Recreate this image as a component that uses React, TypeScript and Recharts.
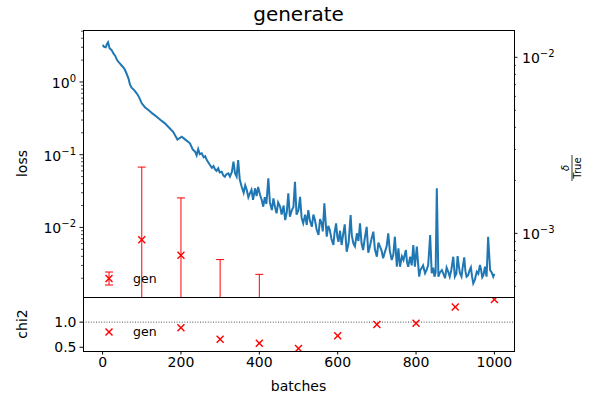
import React from 'react';
import { ComposedChart, Line, Scatter, ErrorBar, XAxis, YAxis, ReferenceLine } from 'recharts';

// loss per batch (main readings)
const lossBatches = [
  0, 8, 14, 18, 23, 32, 40, 48, 55, 66, 74, 87, 100, 117, 138, 159, 180, 202, 223, 236,
  244, 253, 266, 274, 287, 295, 304, 312, 321, 334, 338, 346, 355, 368, 376, 389, 402, 410, 423, 432,
  444, 453, 466, 474, 483, 491, 500, 504, 512, 521, 525, 534, 542, 551, 559, 566, 572, 580, 589, 596,
  602, 610, 623, 633, 640, 649, 657, 665, 674, 682, 691, 700, 708, 716, 729, 738, 746, 751, 755, 759,
  768, 774, 780, 785, 793, 797, 802, 808, 814, 823, 831, 836, 840, 847, 853, 857, 866, 874, 882, 895,
  899, 906, 912, 923, 929, 940, 946, 955, 963, 969, 976, 984, 989, 997, 1000,
];
const lossValues = [
  3.23, 3.0, 3.52, 2.9, 2.75, 2.3, 1.9, 1.7, 1.54, 1.12, 0.835, 0.7, 0.509, 0.412, 0.333, 0.27, 0.207, 0.177, 0.1435, 0.11,
  0.119, 0.1045, 0.0845, 0.0722, 0.063, 0.065, 0.0584, 0.0498, 0.0555, 0.08, 0.0555, 0.0845, 0.0363, 0.0327, 0.0294, 0.0345, 0.0279, 0.0193, 0.0473, 0.0173,
  0.0156, 0.0193, 0.01264, 0.0294, 0.0173, 0.0425, 0.0173, 0.0264, 0.0114, 0.0108, 0.0173, 0.0102, 0.01264, 0.00786, 0.01138, 0.0214, 0.00745, 0.0092, 0.00573, 0.01138,
  0.00635, 0.00573, 0.00463, 0.0148, 0.00604, 0.0083, 0.01138, 0.00489, 0.0102, 0.00543, 0.00873, 0.00395, 0.00543, 0.00376, 0.0083, 0.00356, 0.00745, 0.00288, 0.00516, 0.00288,
  0.00356, 0.00489, 0.00288, 0.00395, 0.00573, 0.00288, 0.00543, 0.0021, 0.00274, 0.00234, 0.00304, 0.00786, 0.00234, 0.0021, 0.0345, 0.0021, 0.00259, 0.002, 0.00246, 0.00395,
  0.0021, 0.00404, 0.00234, 0.00388, 0.0021, 0.00282, 0.0017, 0.00246, 0.00304, 0.00206, 0.00288, 0.00745, 0.00259, 0.0021, 0.0023,
];
// extra readings of the noise band in between
const lossBatchesFine = [
  4, 11, 28, 36, 44, 60, 70, 80, 93, 108, 127, 148, 170, 191, 212, 230,
  240, 248, 258, 262, 270, 279, 283, 291, 299, 308, 316, 325, 330, 342, 350,
  360, 364, 372, 380, 384, 393, 397, 406, 414, 418, 427, 436, 440, 448, 457, 462, 470, 478, 487, 495,
  508, 517, 529, 538, 546, 555, 562, 569, 576, 584, 592, 599, 606, 614, 618, 628, 636, 644, 653, 661,
  669, 678, 686, 695, 704, 712, 720, 725, 733, 742,
  764, 777, 789, 805, 811, 818, 827, 844, 850, 861, 870, 878, 886, 890, 903, 909, 916, 919, 926, 933,
  937, 943, 950, 959, 966, 972, 980, 993,
];
const lossValuesFine = [
  3.05, 3.3, 2.45, 2.05, 1.8, 1.35, 0.92, 0.78, 0.62, 0.45, 0.37, 0.3, 0.235, 0.162, 0.16, 0.118,
  0.098, 0.102, 0.092, 0.095, 0.078, 0.066, 0.07, 0.06, 0.057, 0.052, 0.054, 0.05, 0.058, 0.05, 0.046,
  0.03, 0.038, 0.026, 0.033, 0.024, 0.027, 0.036, 0.024, 0.026, 0.021, 0.022, 0.025, 0.019, 0.022, 0.015, 0.02, 0.016, 0.014, 0.019, 0.015,
  0.0135, 0.015, 0.0125, 0.015, 0.0095, 0.013, 0.0088, 0.0125, 0.0105, 0.007, 0.0085, 0.0075, 0.009, 0.008, 0.011, 0.0062, 0.0078, 0.0055, 0.0065, 0.006,
  0.007, 0.0045, 0.0068, 0.005, 0.0062, 0.0048, 0.0045, 0.0055, 0.0048, 0.0042,
  0.004, 0.0033, 0.003, 0.0033, 0.0026, 0.003, 0.0026, 0.0028, 0.0024, 0.0024, 0.0023, 0.0028, 0.0021, 0.0026, 0.0023, 0.003, 0.0021, 0.0028, 0.0025, 0.0022,
  0.0026, 0.0021, 0.0019, 0.0023, 0.0026, 0.0022, 0.0021, 0.0024,
];

// gen: delta / True with error bars (lower ends run off the axis)
const genBatches = [100, 200, 300, 400];
const genRatio = [9.2e-4, 7.5e-4, 2.5e-4, 2.0e-4];
const genErrLow = [9.1e-4, 7.4e-4, 2.4e-4, 1.9e-4];
const genErrHigh = [1.46e-3, 8.4e-4, 4.6e-4, 3.85e-4];

// chi2
const chiBatches = [200, 300, 400, 500, 600, 700, 800, 900, 1000];
const chiValues = [0.89, 0.66, 0.58, 0.475, 0.73, 0.955, 0.98, 1.3, 1.45];

const xTicks = [0, 200, 400, 600, 800, 1000];
const chiTicks = [0.5, 1.0];
const lossTicks = [
  0.002, 0.003, 0.004, 0.005, 0.006, 0.007, 0.008, 0.009, 0.01,
  0.02, 0.03, 0.04, 0.05, 0.06, 0.07, 0.08, 0.09, 0.1,
  0.2, 0.3, 0.4, 0.5, 0.6, 0.7, 0.8, 0.9, 1, 2, 3, 4, 5,
];
const ratioTicks = [
  0.0005, 0.0006, 0.0007, 0.0008, 0.0009, 0.001,
  0.002, 0.003, 0.004, 0.005, 0.006, 0.007, 0.008, 0.009, 0.01,
];

const FONT = 'DejaVu Sans, sans-serif';
const RED = '#ff0000';
const BLUE = '#1f77b4';

const lossData = lossBatches
  .map((b, i) => ({ batch: b, loss: lossValues[i] }))
  .concat(lossBatchesFine.map((b, i) => ({ batch: b, loss: lossValuesFine[i] })))
  .sort((a, b) => a.batch - b.batch);
const genData = genBatches.map((b, i) => ({ batch: b, ratio: genRatio[i], err: [genErrLow[i], genErrHigh[i]] }));
const chiData = chiBatches.map((b, i) => ({ batch: b, chi2: chiValues[i] }));

const XMark = (props: any) => {
  const { cx, cy } = props;
  if (cx == null || cy == null || isNaN(cy)) return null;
  const r = 3.5;
  return (
    <g stroke={RED} strokeWidth={1.4}>
      <line x1={cx - r} y1={cy - r} x2={cx + r} y2={cy + r} />
      <line x1={cx - r} y1={cy + r} x2={cx + r} y2={cy - r} />
    </g>
  );
};

const LogTick = (props: any) => {
  const { x, y, payload, side } = props;
  const v = payload.value;
  const lg = Math.log10(v);
  const major = Math.abs(lg - Math.round(lg)) < 1e-6;
  const dir = side === 'left' ? -1 : 1;
  const len = major ? 3.5 : 2;
  const e = Math.round(lg);
  const sup = e < 0 ? '\u2212' + Math.abs(e) : String(e);
  return (
    <g>
      <line x1={x} y1={y} x2={x + dir * len} y2={y} stroke="#000" strokeWidth={major ? 0.9 : 0.7} />
      {major && (
        <text
          x={side === 'left' ? x - 7 : x + 8}
          y={y + 6}
          textAnchor={side === 'left' ? 'end' : 'start'}
          fontFamily={FONT}
          fontSize={14}
          fill="#000"
        >
          <tspan>10</tspan>
          <tspan dy={-6} fontSize={10}>{sup}</tspan>
        </text>
      )}
    </g>
  );
};

export default function App() {
  return (
    <div style={{ position: 'absolute', left: 0, top: 0, width: 602, height: 406, background: '#fff' }}>
      <div style={{ position: 'absolute', left: 0, top: 0 }}>
        <ComposedChart width={602} height={406} margin={{ top: 297, right: 88, left: 0, bottom: 0 }} data={chiData}>
          <XAxis
            type="number"
            dataKey="batch"
            domain={[-50, 1050]}
            ticks={xTicks}
            interval={0}
            height={55}
            axisLine={false}
            tickSize={3.5}
            tickMargin={3}
            tickLine={{ stroke: '#000' }}
            tick={{ fill: '#000', fontSize: 14, fontFamily: FONT }}
          />
          <YAxis
            type="number"
            dataKey="chi2"
            domain={[0.426, 1.5]}
            allowDataOverflow
            ticks={chiTicks}
            interval={0}
            width={83}
            axisLine={false}
            tickSize={3.5}
            tickMargin={3}
            tickLine={{ stroke: '#000' }}
            tickFormatter={(v: number) => v.toFixed(1)}
            tick={{ fill: '#000', fontSize: 14, fontFamily: FONT }}
          />
          <ReferenceLine y={1} stroke="#222" strokeWidth={0.8} strokeDasharray="1 1.6" />
          <Scatter dataKey="chi2" shape={<XMark />} isAnimationActive={false} />
        </ComposedChart>
      </div>
      <div style={{ position: 'absolute', left: 0, top: 0 }}>
        <ComposedChart width={602} height={406} margin={{ top: 30, right: 0, left: 0, bottom: 109 }}>
          <XAxis type="number" dataKey="batch" domain={[-50, 1050]} hide />
          <YAxis
            yAxisId="loss"
            orientation="left"
            type="number"
            scale="log"
            domain={[1.104e-3, 5.19]}
            allowDataOverflow
            ticks={lossTicks}
            interval={0}
            width={83}
            axisLine={false}
            tickLine={false}
            tickSize={0}
            tickMargin={0}
            tick={<LogTick side="left" />}
          />
          <YAxis
            yAxisId="ratio"
            orientation="right"
            type="number"
            scale="log"
            domain={[4.35e-4, 1.43e-2]}
            allowDataOverflow
            ticks={ratioTicks}
            interval={0}
            width={88}
            axisLine={false}
            tickLine={false}
            tickSize={0}
            tickMargin={0}
            tick={<LogTick side="right" />}
          />
          <Line
            yAxisId="loss"
            data={lossData}
            dataKey="loss"
            type="linear"
            stroke={BLUE}
            strokeWidth={2}
            dot={false}
            isAnimationActive={false}
          />
        </ComposedChart>
      </div>
      {/* error bars, clipped to the upper plot area */}
      <div style={{ position: 'absolute', left: 0, top: 0, clipPath: 'inset(30px 88px 109px 83px)' }}>
        <ComposedChart width={602} height={406} margin={{ top: 30, right: 88, left: 83, bottom: 109 }}>
          <XAxis type="number" dataKey="batch" domain={[-50, 1050]} hide />
          <YAxis type="number" scale="log" domain={[4.35e-4, 1.43e-2]} allowDataOverflow hide />
          <Scatter data={genData} dataKey="ratio" shape={<XMark />} isAnimationActive={false}>
            <ErrorBar dataKey="err" direction="y" width={4} stroke={RED} strokeWidth={1} />
          </Scatter>
        </ComposedChart>
      </div>
      <div style={{ position: 'absolute', left: 83, top: 30, width: 432, height: 268, border: '1px solid #000', boxSizing: 'border-box' }} />
      <div style={{ position: 'absolute', left: 83, top: 297, width: 432, height: 55, border: '1px solid #000', boxSizing: 'border-box' }} />
      <svg width={602} height={406} style={{ position: 'absolute', left: 0, top: 0, pointerEvents: 'none' }} fontFamily={FONT}>
        <text x={298.5} y={21} textAnchor="middle" fontSize={20} fill="#000">generate</text>
        <text x={0} y={0} transform="translate(27,163.5) rotate(-90)" textAnchor="middle" fontSize={14} fill="#000">loss</text>
        <text x={0} y={0} transform="translate(27,324) rotate(-90)" textAnchor="middle" fontSize={14} fill="#000">chi2</text>
        <text x={298.5} y={391} textAnchor="middle" fontSize={14} fill="#000">batches</text>
        <g transform="translate(572,168) rotate(-90)">
          <text x={0} y={-3} textAnchor="middle" fontSize={10} fontStyle="italic" fill="#000">δ</text>
          <line x1={-13} y1={0} x2={13} y2={0} stroke="#000" strokeWidth={0.8} />
          <text x={0} y={9} textAnchor="middle" fontSize={10} fill="#000">True</text>
        </g>
        <g stroke={RED} strokeWidth={1}>
          <line x1={109} y1={272} x2={109} y2={285} />
          <line x1={105} y1={272} x2={113} y2={272} />
          <line x1={105} y1={285} x2={113} y2={285} />
        </g>
        <XMark cx={109} cy={278.5} />
        <text x={133} y={283} fontSize={12.5} fill="#000">gen</text>
        <XMark cx={109} cy={332} />
        <text x={133} y={336} fontSize={12.5} fill="#000">gen</text>
      </svg>
    </div>
  );
}
